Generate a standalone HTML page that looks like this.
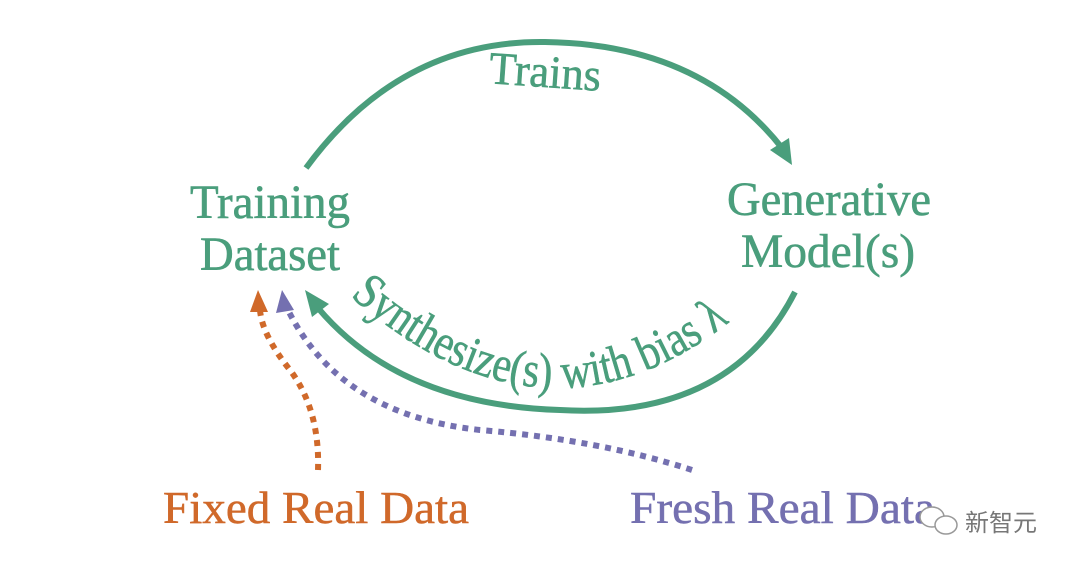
<!DOCTYPE html>
<html><head><meta charset="utf-8"><style>
html,body{margin:0;padding:0;background:#fff;}
svg{display:block;}
text{font-family:"Liberation Serif",serif;}
</style></head><body>
<svg width="1080" height="570" viewBox="0 0 1080 570" xmlns="http://www.w3.org/2000/svg">
<defs>
<path id="bot" d="M 350 296 Q 560 480 760 296"/>
</defs>
<g fill="none" stroke="#4a9e7c" stroke-width="6">
<path d="M 306 168 Q 400 40 545 42 Q 700 44 782 148"/>
<path d="M 795 292 Q 730 420 560 410 Q 400 405 318 308"/>
</g>
<polygon points="792,165 770,150 789,138" fill="#4a9e7c"/>
<polygon points="305,290 329,304 312,317" fill="#4a9e7c"/>
<g fill="#4a9e7c" font-size="48" stroke="#4a9e7c" stroke-width="0.6">
<text x="190" y="218" textLength="160" lengthAdjust="spacingAndGlyphs">Training</text>
<text x="200" y="270" textLength="140" lengthAdjust="spacingAndGlyphs">Dataset</text>
<text x="727" y="215" textLength="204" lengthAdjust="spacingAndGlyphs">Generative</text>
<text x="741" y="267" textLength="174" lengthAdjust="spacingAndGlyphs">Model(s)</text>
<text x="489" y="87" font-size="46" textLength="112" lengthAdjust="spacingAndGlyphs" transform="rotate(4 545 75)">Trains</text>
<text font-size="50"><textPath href="#bot" startOffset="0" textLength="420" lengthAdjust="spacingAndGlyphs">Synthesize(s) with bias λ</textPath></text>
</g>
<path d="M 318 470 Q 320 410 290 370 Q 262 335 260 310" fill="none" stroke="#d0692a" stroke-width="6" stroke-dasharray="6,6"/>
<polygon points="258,290 250,312 268,312" fill="#d0692a"/>
<path d="M 692 470 Q 600 440 480 430 Q 340 415 288 310" fill="none" stroke="#7470b0" stroke-width="6" stroke-dasharray="6,6"/>
<polygon points="282,290 276,313 294,310" fill="#7470b0"/>
<text x="163" y="523" font-size="46" fill="#d0692a" stroke="#d0692a" stroke-width="0.5" textLength="306" lengthAdjust="spacingAndGlyphs">Fixed Real Data</text>
<text x="630" y="523" font-size="46" fill="#7470b0" stroke="#7470b0" stroke-width="0.5" textLength="305" lengthAdjust="spacingAndGlyphs">Fresh Real Data</text>
<g fill="none" stroke="#999" stroke-width="1.5">
<ellipse cx="932" cy="517" rx="12" ry="10" fill="#fff"/>
<ellipse cx="946" cy="525" rx="11" ry="9" fill="#fff"/>
</g>
<text x="965" y="531" font-size="24" fill="#777" font-family="'Noto Sans CJK SC',sans-serif">新智元</text>
</svg>
</body></html>
